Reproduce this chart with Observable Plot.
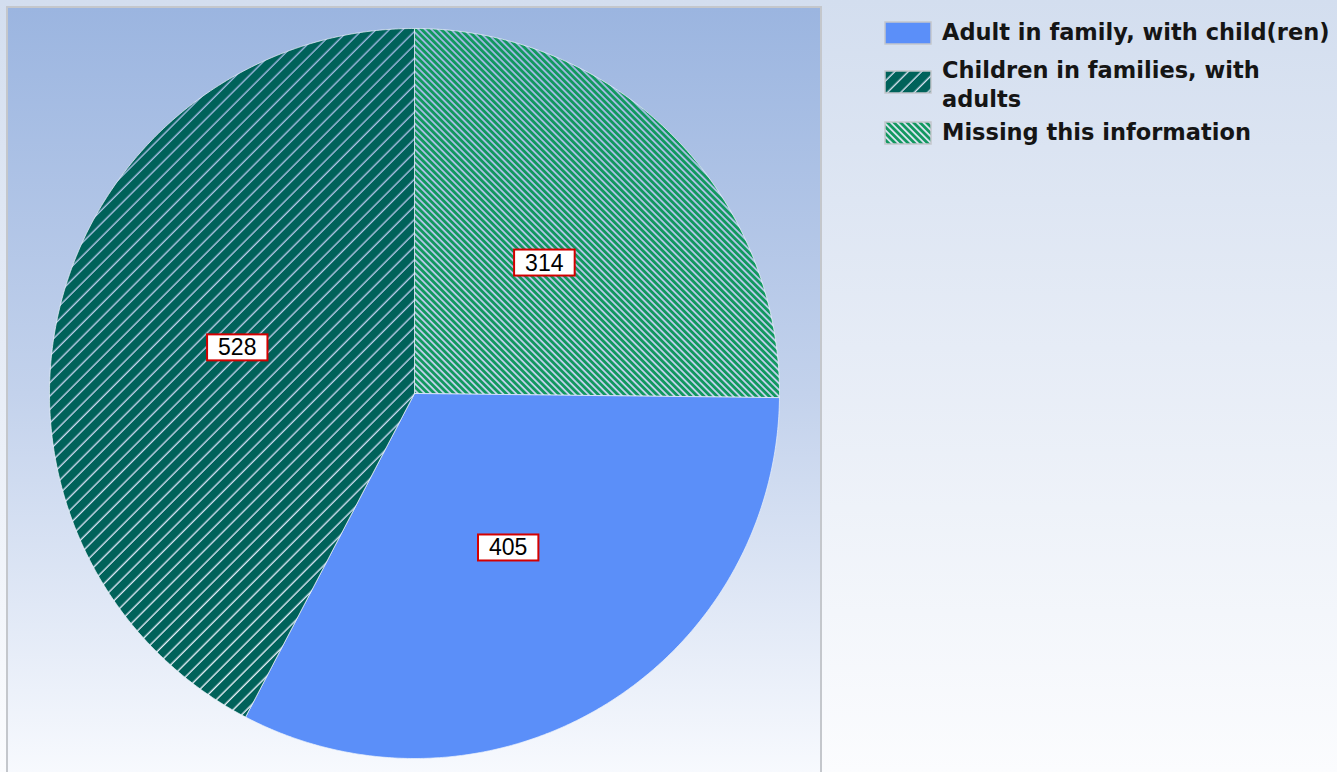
<!DOCTYPE html>
<html>
<head>
<meta charset="utf-8">
<script src="https://cdn.jsdelivr.net/npm/d3@7"></script>
<script src="https://cdn.jsdelivr.net/npm/@observablehq/plot@0.6"></script>
<style>
  html, body { margin: 0; padding: 0; }
  body { width: 1337px; height: 772px; overflow: hidden; position: relative;
         background: linear-gradient(to bottom, #d3deef 0%, #e6ecf6 45%, #fbfcfe 100%); }
  #panel { position: absolute; left: 6px; top: 6px; width: 812px; height: 770px;
           border: 2px solid #c4c7cc; border-bottom: none;
           background: linear-gradient(to bottom, #9bb5e0 0%, #c3d2ec 50%, #f8fafe 100%); }
  #chart { position: absolute; left: 0; top: 0; }
  #legend { position: absolute; left: 884px; top: 18px; font-family: "DejaVu Sans", sans-serif;
            font-weight: bold; font-size: 22.5px; color: #151515; }
  .item { display: flex; align-items: flex-start; }
  .item svg { flex: none; margin-right: 10px; }
  .item span { line-height: 29px; }
</style>
</head>
<body>
<div id="panel"><div id="chart"></div></div>
<div id="legend"></div>
<script>
// ---- data ----
const categories = ["Adult in family, with child(ren)", "Children in families, with adults", "Missing this information"];
const legendLines = [["Adult in family, with child(ren)"], ["Children in families, with", "adults"], ["Missing this information"]];
const values = [405, 528, 314];
// drawing order starts at 12 o'clock, clockwise
const sliceOrder = [2, 0, 1];
const fills = ["#5b8ff9", "url(#hatchDark)", "url(#hatchLight)"];

const total = d3.sum(values);
const W = 812, H = 764;
const R = 365, cx = 406, cy = 385;

// build slice polygons in unit coordinates (angle measured clockwise from north)
const points = [];
const labels = [];
let acc = 0;
for (const i of sliceOrder) {
  const a0 = acc / total * 2 * Math.PI;
  acc += values[i];
  const a1 = acc / total * 2 * Math.PI;
  const n = Math.max(2, Math.ceil((a1 - a0) / (Math.PI / 360)));
  points.push({cat: categories[i], x: 0, y: 0});
  for (let k = 0; k <= n; k++) {
    const a = a0 + (a1 - a0) * k / n;
    points.push({cat: categories[i], x: Math.sin(a), y: Math.cos(a)});
  }
  points.push({cat: categories[i], x: 0, y: 0});
  const am = (a0 + a1) / 2;
  labels.push({cat: categories[i], value: values[i], x: 0.5 * Math.sin(am), y: 0.5 * Math.cos(am)});
}

const chart = Plot.plot({
  width: W, height: H,
  margin: 0,
  style: {background: "transparent", overflow: "visible"},
  x: {domain: [-cx / R, (W - cx) / R], axis: null},
  y: {domain: [-(H - cy) / R, cy / R], axis: null},
  color: {domain: categories, range: fills},
  marks: [
    Plot.line(points, {x: "x", y: "y", z: "cat", fill: "cat", stroke: "#eef3fb", strokeWidth: 1, strokeOpacity: 0.7}),
    Plot.text(labels, {x: "x", y: "y", text: "value", fontSize: 23, fill: "#000", dy: -2,
                       fontFamily: "Liberation Sans, Arial, sans-serif", className: "vlabel"})
  ]
});

const defs = `
<defs>
  <pattern id="hatchDark" patternUnits="userSpaceOnUse" width="9.5" height="9.5" patternTransform="rotate(45)">
    <rect x="0" y="0" width="8.1" height="9.5" fill="#00625a"></rect>
  </pattern>
  <pattern id="hatchLight" patternUnits="userSpaceOnUse" width="4.6" height="4.6" patternTransform="rotate(-45)">
    <rect x="0" y="0" width="2.8" height="4.6" fill="#12985f"></rect>
  </pattern>
</defs>`;
chart.insertAdjacentHTML("afterbegin", defs);
document.getElementById("chart").appendChild(chart);

// white boxes with red border behind the value labels
chart.querySelectorAll(".vlabel text").forEach(t => {
  const b = t.getBBox();
  const r = document.createElementNS("http://www.w3.org/2000/svg", "rect");
  const w = b.width + 22, h = 26;
  r.setAttribute("x", b.x + b.width / 2 - w / 2);
  r.setAttribute("y", b.y + b.height / 2 - h / 2);
  r.setAttribute("width", w);
  r.setAttribute("height", h);
  r.setAttribute("fill", "#ffffff");
  r.setAttribute("stroke", "#d40000");
  r.setAttribute("stroke-width", 2);
  if (t.getAttribute("transform")) r.setAttribute("transform", t.getAttribute("transform"));
  t.parentNode.insertBefore(r, t);
});

// legend
const legend = document.getElementById("legend");
const swatchTop = [3, 14, 3];
const itemGap = [9, 4, 0];
categories.forEach((c, i) => {
  const div = document.createElement("div");
  div.className = "item";
  div.style.marginBottom = itemGap[i] + "px";
  div.innerHTML = `<svg width="48" height="24" style="margin-top:${swatchTop[i]}px"><rect x="1" y="1" width="46" height="22" fill="${fills[i]}" stroke="#c3c6cc" stroke-width="1.5"></rect></svg><span>${legendLines[i].join("<br>")}</span>`;
  legend.appendChild(div);
});
</script>
</body>
</html>
